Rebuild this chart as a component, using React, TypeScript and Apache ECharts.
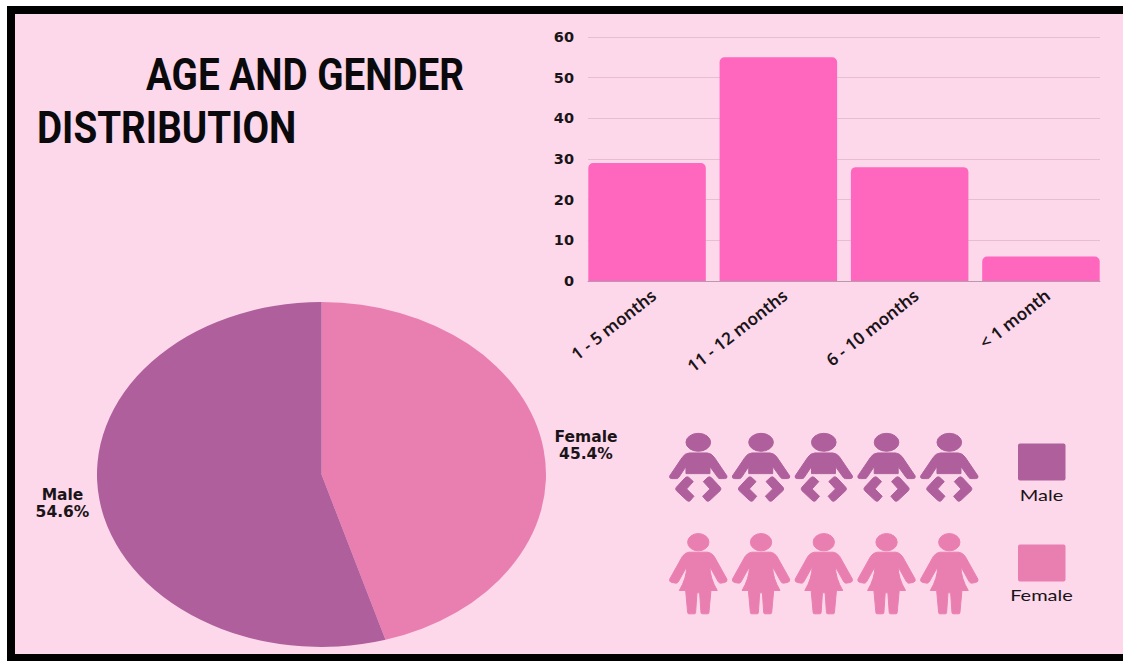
import React, { useEffect, useRef } from "react";
import * as echarts from "echarts";

const ageCategories = ["1 - 5 months", "11 - 12 months", "6 - 10 months", "< 1 month"];
const ageCounts = [29, 55, 28, 6];
const genderNames = ["Female", "Male"];
const genderShares = [45.4, 54.6];
const iconsPerRow = [1, 2, 3, 4, 5];

const PAGE_BG = "#FDD8EB";
const MALE = "#AE5F9C";
const FEMALE = "#E97FB0";
const BAR = "#FF66BD";
const INK = "#1A1418";

// Baby and girl pictograms, drawn in a 3x local space
const babyPath =
  "M78 67A37 27 0 1 1 152 67A37 27 0 1 1 78 67Z" +
  "M88 99L142 99Q155 100 163 112L201 168Q203 176 194 176L180 176Q176 176 174 173L150 140L150 161L78 161L78 140L56 173Q54 176 50 176L36 176Q27 176 29 168L67 112Q75 100 88 99Z" +
  "M86 172L100 185L80 207L102 229L90 243Q85 246 80 241L49 212Q45 207 49 202L76 173Q81 169 86 172Z" +
  "M144 172L130 185L150 207L128 229L140 243Q145 246 150 241L181 212Q185 207 181 202L154 173Q149 169 144 172Z";
const girlPath =
  "M83 367A32 26 0 1 1 147 367A32 26 0 1 1 83 367Z" +
  "M87 397L143 397Q155 398 163 410L201 478Q203 486 194 488L182 490Q178 490 175 486L150 441Q150 475 172 512L153 512L147 578Q147 582 143 582L127 582Q123 582 123 578L119 519L111 519L107 578Q107 582 103 582L87 582Q83 582 83 578L77 512L58 512Q80 475 80 441L55 486Q52 490 48 490L36 488Q27 486 29 478L67 410Q75 398 87 397Z";
echarts.graphic.registerShape("babyIcon", echarts.graphic.extendPath(babyPath, {}) as any);
echarts.graphic.registerShape("girlIcon", echarts.graphic.extendPath(girlPath, {}) as any);

const PIE = { cx: 321.5, cy: 474.5, rx: 224.5, ry: 172.5 };
const pieLabelAt = [
  { x: 586, y: 445.5 },
  { x: 62.5, y: 503.5 },
];

function renderSlice(params: any, api: any) {
  const i = params.dataIndex;
  const total = genderShares.reduce((a, b) => a + b, 0);
  const before = genderShares.slice(0, i).reduce((a, b) => a + b, 0);
  const start = -Math.PI / 2 + (before / total) * Math.PI * 2;
  const end = start + (api.value(0) / total) * Math.PI * 2;
  return {
    type: "group",
    children: [
      {
        type: "sector",
        x: PIE.cx,
        y: PIE.cy,
        scaleX: 1,
        scaleY: PIE.ry / PIE.rx,
        shape: { cx: 0, cy: 0, r0: 0, r: PIE.rx, startAngle: start, endAngle: end, clockwise: true },
        style: { fill: i === 0 ? FEMALE : MALE },
      },
      {
        type: "text",
        x: pieLabelAt[i].x,
        y: pieLabelAt[i].y,
        style: {
          text: `${genderNames[i]}\n${api.value(0)}%`,
          fill: INK,
          font: 'bold 15.5px "DejaVu Sans"',
          lineHeight: 17,
          align: "center",
          verticalAlign: "middle",
        },
      },
    ],
  };
}

export default function App() {
  const ref = useRef<HTMLDivElement>(null);

  useEffect(() => {
    document.body.style.margin = "0";
    const chart = echarts.init(ref.current!, undefined, { renderer: "svg" });

    const titleStyle = { fill: "#0A0A0C", font: 'bold 44px "Roboto"', verticalAlign: "middle" };
    const legendText = { fill: INK, font: "16px Lato", align: "center", verticalAlign: "middle" };
    const graphics: any[] = [
      { type: "rect", silent: true, z: -10, shape: { x: 7, y: 6, width: 1116, height: 655 }, style: { fill: "#000" } },
      { type: "rect", silent: true, z: -9, shape: { x: 15, y: 14, width: 1108, height: 640 }, style: { fill: PAGE_BG } },
      { type: "text", x: 146, y: 75, scaleX: 0.878, style: { ...titleStyle, text: "AGE AND GENDER" } },
      { type: "text", x: 37, y: 128, scaleX: 0.878, style: { ...titleStyle, text: "DISTRIBUTION" } },
      { type: "rect", shape: { x: 1018, y: 443.5, width: 47.5, height: 37, r: 2 }, style: { fill: MALE } },
      { type: "rect", shape: { x: 1018, y: 544.5, width: 47.5, height: 37, r: 2 }, style: { fill: FEMALE } },
      { type: "text", x: 1041.5, y: 495, scaleX: 1.25, style: { ...legendText, text: "Male" } },
      { type: "text", x: 1041.5, y: 594.5, scaleX: 1.25, style: { ...legendText, text: "Female" } },
    ];
    const iconStroke = { lineWidth: 3, lineJoin: "round" };
    iconsPerRow.forEach((n) => {
      const x = 660 + (n - 1) * 62.75;
      graphics.push({ type: "babyIcon", x, y: 420, scaleX: 1 / 3, scaleY: 1 / 3, style: { fill: MALE, stroke: MALE, ...iconStroke } });
      graphics.push({ type: "girlIcon", x, y: 420, scaleX: 1 / 3, scaleY: 1 / 3, style: { fill: FEMALE, stroke: FEMALE, ...iconStroke } });
    });

    chart.setOption({
      animation: false,
      backgroundColor: "#fff",
      graphic: { elements: graphics },
      // Grids: value axis and rules; bar bands; the same bands nudged right for the slanted labels
      grid: [
        { left: 588, width: 512, top: 37, height: 244 },
        { left: 581.4, width: 525.2, top: 37, height: 244 },
        { left: 587.9, width: 525.2, top: 37, height: 244 },
      ],
      xAxis: [
        {
          gridIndex: 0,
          type: "category",
          data: ageCategories,
          axisTick: { show: false },
          axisLabel: { show: false },
          axisLine: { show: true, lineStyle: { color: "#B79AAB", width: 1 } },
        },
        {
          gridIndex: 1,
          type: "category",
          data: ageCategories,
          axisTick: { show: false },
          axisLine: { show: false },
          axisLabel: { show: false },
        },
        {
          gridIndex: 2,
          type: "category",
          data: ageCategories,
          axisTick: { show: false },
          axisLine: { show: false },
          axisLabel: {
            rotate: 38,
            margin: 12,
            interval: 0,
            color: INK,
            fontFamily: "Noto Sans",
            fontWeight: 600,
            fontSize: 17,
          },
        },
      ],
      yAxis: [
        {
          gridIndex: 0,
          type: "value",
          min: 0,
          max: 60,
          interval: 10,
          axisLine: { show: false },
          axisTick: { show: false },
          splitLine: { lineStyle: { color: "#E7BDD4", width: 1 } },
          axisLabel: { margin: 14, color: INK, fontFamily: "DejaVu Sans", fontWeight: 700, fontSize: 14.5 },
        },
        { gridIndex: 1, type: "value", min: 0, max: 60, interval: 10, show: false },
        { gridIndex: 2, type: "value", min: 0, max: 60, interval: 10, show: false },
      ],
      series: [
        {
          type: "bar",
          xAxisIndex: 1,
          yAxisIndex: 1,
          data: ageCounts,
          barWidth: 117.5,
          itemStyle: { color: BAR, borderRadius: [5, 5, 0, 0] },
        },
        {
          type: "custom",
          coordinateSystem: "none",
          renderItem: renderSlice,
          data: genderShares,
          encode: { value: 0 },
          silent: true,
        },
      ],
    });
    return () => chart.dispose();
  }, []);

  return <div ref={ref} style={{ width: 1123, height: 661 }} />;
}
